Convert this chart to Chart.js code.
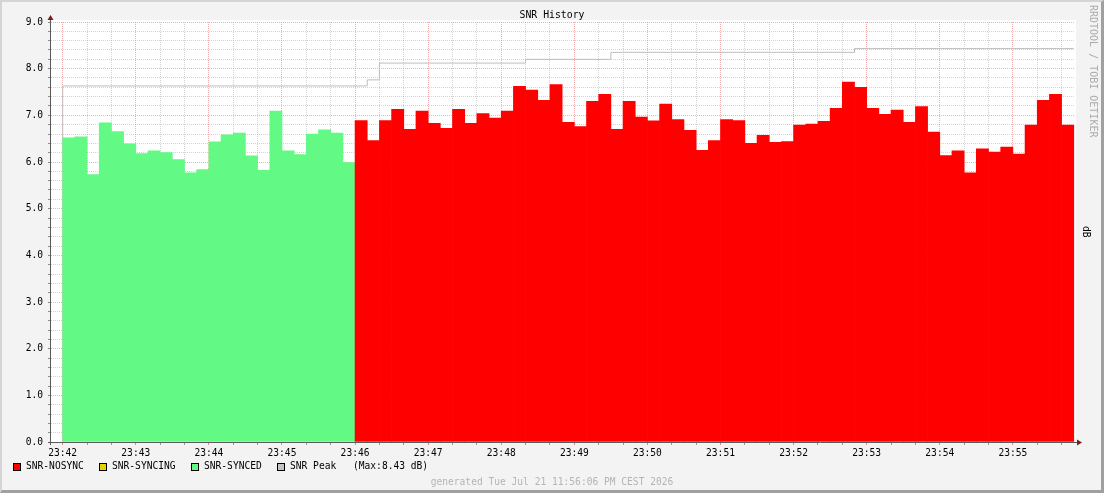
<!DOCTYPE html>
<html>
<head>
<meta charset="utf-8">
<title>SNR History</title>
<script src="https://cdn.jsdelivr.net/npm/chart.js@4.4.1/dist/chart.umd.min.js"></script>
<style>
  html, body { margin: 0; padding: 0; background: #f3f3f3; }
  #frame {
    position: relative; width: 1104px; height: 493px; overflow: hidden;
    background: #f3f3f3; font-family: "DejaVu Sans Mono", monospace; font-size: 9.6px; color: #000;
  }
  #frame canvas { position: absolute; left: 0; top: 0; }
  #bevel {
    position: absolute; left: 0; top: 0; width: 1104px; height: 493px; box-sizing: border-box;
    border-top: 2px solid #d4d4d4; border-left: 2px solid #d4d4d4;
    border-right: 3px solid #a0a0a0; border-bottom: 3px solid #a0a0a0; pointer-events: none;
  }
  .txt { position: absolute; white-space: pre; line-height: 1; }
  .sw { position: absolute; width: 8px; height: 8px; box-sizing: border-box; border: 1px solid #000; }
  .vert { writing-mode: vertical-rl; }
</style>
</head>
<body>
<div id="frame">
  <canvas id="snr" width="1104" height="493"></canvas>
  <div class="txt" style="left:0; width:1104px; top:10px; text-align:center; font-size:9.8px;">SNR History</div>
  <div class="txt vert" style="left:1088px; top:5px; font-size:10px; color:#ababab;">RRDTOOL / TOBI OETIKER</div>
  <div class="txt vert" style="left:1081px; top:226px;">dB</div>
  <div id="legend"></div>
  <div class="txt" style="left:0; width:1104px; top:477px; text-align:center; color:#b4b4b4;">generated Tue Jul 21 11:56:06 PM CEST 2026</div>
  <div id="bevel"></div>
</div>
<script>
// 10 second steps starting at 23:42:00
const stepSeconds = 10;
const timeLabels = ['23:42', '23:43', '23:44', '23:45', '23:46', '23:47', '23:48',
  '23:49', '23:50', '23:51', '23:52', '23:53', '23:54', '23:55'];
const yLabels = ['0.0', '1.0', '2.0', '3.0', '4.0', '5.0', '6.0', '7.0', '8.0', '9.0'];

const seriesNames = ['SNR-NOSYNC', 'SNR-SYNCING', 'SNR-SYNCED', 'SNR Peak'];
const seriesColors = ['#ff0000', '#e2d400', '#62fa84', '#c4c4c4'];

// SNR while synced (first 24 steps), then not synced
const snrSynced = [6.52, 6.54, 5.73, 6.84, 6.65, 6.39, 6.18, 6.24, 6.20, 6.05, 5.77, 5.84,
  6.43, 6.58, 6.62, 6.13, 5.82, 7.09, 6.24, 6.16, 6.60, 6.69, 6.62, 5.99];
const snrSyncing = [];
const snrNosync = [6.89, 6.46, 6.89, 7.13, 6.70, 7.09, 6.83, 6.72, 7.13, 6.83,
  7.04, 6.94, 7.09, 7.62, 7.54, 7.32, 7.66, 6.85, 6.76, 7.30,
  7.45, 6.70, 7.30, 6.96, 6.88, 7.24, 6.91, 6.68, 6.25,
  6.46, 6.91, 6.89, 6.40, 6.57, 6.42, 6.44, 6.79, 6.81, 6.87,
  7.15, 7.71, 7.60, 7.15, 7.02, 7.11, 6.85, 7.19, 6.64, 6.14,
  6.24, 5.77, 6.28, 6.21, 6.32, 6.17, 6.79, 7.32, 7.45, 6.79];

// peak value changes (seconds after 23:42:00)
const peakTimes = [0, 250, 260, 380, 450, 650];
const peakValues = [7.63, 7.76, 8.12, 8.20, 8.35, 8.43];

const totalSteps = snrSynced.length + snrSyncing.length + snrNosync.length;
const endTime = totalSteps * stepSeconds;

function toPoints(values, firstStep) {
  return values.map((v, i) => ({ x: (firstStep + i + 0.5) * stepSeconds, y: v }));
}

const peakPoints = [{ x: peakTimes[0], y: 0 }];
peakTimes.forEach((t, i) => peakPoints.push({ x: t, y: peakValues[i] }));
peakPoints.push({ x: endTime, y: peakValues[peakValues.length - 1] });

const xTicks = [];
for (let t = 0; t <= endTime; t += 20) xTicks.push(t);
const yTicks = [];
for (let i = 0; i <= 45; i++) yTicks.push(i / 5);

const minorGrid = 'rgba(120,120,120,0.32)';
const majorGrid = 'rgba(230,90,90,0.48)';
const font = { family: 'DejaVu Sans Mono', size: 9.6 };

// legend, built from the series list
const legend = document.getElementById('legend');
const swatchLeft = [13, 99, 191, 277];
const textLeft = [26, 112, 204, 290];
seriesNames.forEach((name, i) => {
  const sw = document.createElement('div');
  sw.className = 'sw';
  sw.style.left = swatchLeft[i] + 'px';
  sw.style.top = '463px';
  sw.style.background = seriesColors[i];
  legend.appendChild(sw);
  const tx = document.createElement('div');
  tx.className = 'txt';
  tx.style.left = textLeft[i] + 'px';
  tx.style.top = '461px';
  tx.textContent = name;
  legend.appendChild(tx);
});
const maxTxt = document.createElement('div');
maxTxt.className = 'txt';
maxTxt.style.left = '353px';
maxTxt.style.top = '461px';
maxTxt.textContent = '(Max:' + Math.max(...peakValues).toFixed(2) + ' dB)';
legend.appendChild(maxTxt);

const rrdFrame = {
  id: 'rrdFrame',
  beforeDraw(chart) {
    const { ctx, chartArea: a } = chart;
    ctx.save();
    ctx.fillStyle = '#ffffff';
    ctx.fillRect(a.left, a.top - 2, a.right - a.left + 1, a.bottom - a.top + 2);
    ctx.restore();
  },
  afterDraw(chart) {
    const { ctx, chartArea: a } = chart;
    ctx.save();
    ctx.strokeStyle = '#5a5a5a';
    ctx.lineWidth = 1;
    ctx.beginPath();
    ctx.moveTo(a.left - 0.5, a.bottom + 3);
    ctx.lineTo(a.left - 0.5, a.top - 4);
    ctx.moveTo(a.left - 3, a.bottom + 0.5);
    ctx.lineTo(a.right + 3, a.bottom + 0.5);
    ctx.stroke();
    ctx.fillStyle = '#7e1c1c';
    ctx.beginPath();
    ctx.moveTo(a.left - 3.5, a.top - 2);
    ctx.lineTo(a.left + 2.5, a.top - 2);
    ctx.lineTo(a.left - 0.5, a.top - 7);
    ctx.closePath();
    ctx.fill();
    ctx.beginPath();
    ctx.moveTo(a.right + 2, a.bottom - 2.5);
    ctx.lineTo(a.right + 2, a.bottom + 3.5);
    ctx.lineTo(a.right + 7, a.bottom + 0.5);
    ctx.closePath();
    ctx.fill();
    ctx.restore();
  }
};

const barOpts = { grouped: false, barPercentage: 1, categoryPercentage: 1, borderWidth: 0 };

new Chart(document.getElementById('snr'), {
  type: 'bar',
  data: {
    datasets: [
      { label: seriesNames[0], data: toPoints(snrNosync, snrSynced.length + snrSyncing.length),
        backgroundColor: seriesColors[0], ...barOpts },
      { label: seriesNames[1], data: toPoints(snrSyncing, snrSynced.length),
        backgroundColor: seriesColors[1], ...barOpts },
      { label: seriesNames[2], data: toPoints(snrSynced, 0),
        backgroundColor: seriesColors[2], ...barOpts },
      { type: 'line', label: seriesNames[3], data: peakPoints, stepped: 'before',
        borderColor: '#bdbdbd', borderWidth: 1, pointRadius: 0, fill: false }
    ]
  },
  options: {
    responsive: false,
    animation: false,
    events: [],
    layout: { padding: { left: 0, right: 29, top: 22, bottom: 0 } },
    plugins: { legend: { display: false }, tooltip: { enabled: false } },
    scales: {
      x: {
        type: 'linear',
        min: -9.6,
        max: 831,
        offset: false,
        z: 1,
        afterFit: (s) => { s.height = 51; },
        afterBuildTicks: (s) => { s.ticks = xTicks.map((v) => ({ value: v })); },
        grid: {
          offset: false,
          color: (c) => (c.tick && c.tick.value % 60 === 0 ? majorGrid : minorGrid),
          tickColor: (c) => (c.tick && c.tick.value % 60 === 0 ? '#e08a8a' : '#9a9a9a'),
          tickLength: 3
        },
        border: { display: false, dash: [1, 1] },
        ticks: {
          autoSkip: false,
          maxRotation: 0,
          minRotation: 0,
          padding: 3,
          color: '#000',
          font: font,
          callback: (v) => (v % 60 === 0 ? timeLabels[v / 60] : '')
        }
      },
      y: {
        min: 0,
        max: 9,
        z: 1,
        afterFit: (s) => { s.width = 51; },
        afterBuildTicks: (s) => { s.ticks = yTicks.map((v) => ({ value: v })); },
        grid: {
          color: (c) => (c.tick && Math.abs(c.tick.value - Math.round(c.tick.value)) < 1e-6 ? majorGrid : minorGrid),
          tickColor: '#8a8a8a',
          tickLength: 3
        },
        border: { display: false, dash: [1, 1] },
        ticks: {
          autoSkip: false,
          padding: 5,
          color: '#000',
          font: font,
          callback: (v) => (Math.abs(v - Math.round(v)) < 1e-6 ? yLabels[Math.round(v)] : '')
        }
      }
    }
  },
  plugins: [rrdFrame]
});
</script>
</body>
</html>
